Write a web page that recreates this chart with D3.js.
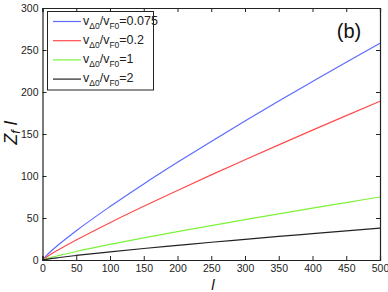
<!DOCTYPE html>
<html><head><meta charset="utf-8">
<script src="https://cdn.jsdelivr.net/npm/d3@7"></script>
<style>body{margin:0;background:#fff}svg{display:block}text{font-family:"Liberation Sans",Arial,sans-serif}</style>
</head><body><svg id="c" width="388" height="292"></svg>
<script>
const lValues = [0, 10, 25, 50, 100, 150, 200, 250, 300, 350, 400, 450, 500];
const zBlue  = [0, 8.6, 19.0, 34.8, 63.6, 90.6, 116.3, 141.2, 165.5, 189.2, 212.4, 235.4, 258];
const zRed   = [0, 5.6, 12.8, 23.8, 44.4, 63.9, 82.8, 101.3, 119.3, 137.1, 154.6, 171.9, 189];
const zGreen = [0, 2.5, 5.5, 10.1, 18.5, 26.3, 33.8, 41.0, 48.1, 55.0, 61.8, 68.4, 75];
const zBlack = [0, 1.4, 3.0, 5.4, 9.7, 13.7, 17.4, 21.1, 24.6, 28.1, 31.4, 34.7, 38];
const seriesNames = ["=0.075", "=0.2", "=1", "=2"];
const seriesColors = ["#5a6bff", "#ff4b4b", "#7df23a", "#222222"];
const xTicks = [0, 50, 100, 150, 200, 250, 300, 350, 400, 450, 500];
const yTicks = [0, 50, 100, 150, 200, 250, 300];

const svg = d3.select("#c");
const L = 42.5, R = 380, T = 8, B = 260;
const x = d3.scaleLinear().domain([0, 500]).range([L, R]);
const y = d3.scaleLinear().domain([0, 300]).range([B, T]);

const series = [zBlue, zRed, zGreen, zBlack];
const line = d3.line().x(d => x(d[0])).y(d => y(d[1])).curve(d3.curveMonotoneX);
series.forEach((s, i) => {
  svg.append("path").attr("d", line(lValues.map((l, j) => [l, s[j]])))
    .attr("fill", "none").attr("stroke", seriesColors[i]).attr("stroke-width", 1.2);
});

const tk = 4;
const ax = g => g.selectAll(".domain").attr("stroke", "#222");
svg.append("g").attr("transform", `translate(0,${B})`)
  .call(d3.axisBottom(x).tickValues(xTicks).tickSize(-tk).tickPadding(5).tickFormat(d3.format("d")))
  .call(ax).call(g => g.selectAll("text").attr("font-size", 10.5).attr("fill", "#222"));
svg.append("g").attr("transform", `translate(0,${T})`)
  .call(d3.axisTop(x).tickValues(xTicks).tickSize(-tk).tickFormat(""))
  .call(ax);
svg.append("g").attr("transform", `translate(${L},0)`)
  .call(d3.axisLeft(y).tickValues(yTicks).tickSize(-tk).tickPadding(4).tickFormat(d3.format("d")))
  .call(ax).call(g => g.selectAll("text").attr("font-size", 10.5).attr("fill", "#222"));
svg.append("g").attr("transform", `translate(${R},0)`)
  .call(d3.axisRight(y).tickValues(yTicks).tickSize(-tk).tickFormat(""))
  .call(ax);
svg.selectAll(".tick line").attr("stroke", "#222");
svg.selectAll(".domain").attr("stroke-width", 1.2);

// legend
const lg = svg.append("g");
lg.append("rect").attr("x", 47.5).attr("y", 11.5).attr("width", 106).attr("height", 78.5)
  .attr("fill", "#fff").attr("stroke", "#222").attr("stroke-width", 1);
seriesNames.forEach((n, i) => {
  const yy = 21.5 + i * 19.2;
  lg.append("line").attr("x1", 53).attr("x2", 81).attr("y1", yy).attr("y2", yy)
    .attr("stroke", seriesColors[i]).attr("stroke-width", 1.2);
  const t = lg.append("text").attr("x", 83).attr("y", yy + 3).attr("font-size", 12.5).attr("fill", "#222");
  t.append("tspan").text("v");
  t.append("tspan").text("Δ0").attr("font-size", 8.5).attr("dy", 4);
  t.append("tspan").text("/v").attr("dy", -4);
  t.append("tspan").text("F0").attr("font-size", 8.5).attr("dy", 4);
  t.append("tspan").text(n).attr("dy", -4);
});

svg.append("text").attr("x", 349).attr("y", 38).attr("text-anchor", "middle")
  .attr("font-size", 20).attr("fill", "#111").text("(b)");

svg.append("text").attr("x", 213).attr("y", 290).attr("text-anchor", "middle")
  .attr("font-family", "'Liberation Serif','DejaVu Serif',serif").attr("font-style", "italic")
  .attr("font-size", 15).attr("fill", "#111").text("l");

const yl = svg.append("text").attr("transform", "translate(17,133) rotate(-90)").attr("text-anchor", "middle")
  .attr("font-family", "'Liberation Serif','DejaVu Serif',serif").attr("font-style", "italic")
  .attr("font-size", 18).attr("fill", "#111");
yl.append("tspan").text("Z");
yl.append("tspan").text("f").attr("font-size", 13).attr("dy", 3);
yl.append("tspan").text(" l").attr("dy", -3);
</script></body></html>
